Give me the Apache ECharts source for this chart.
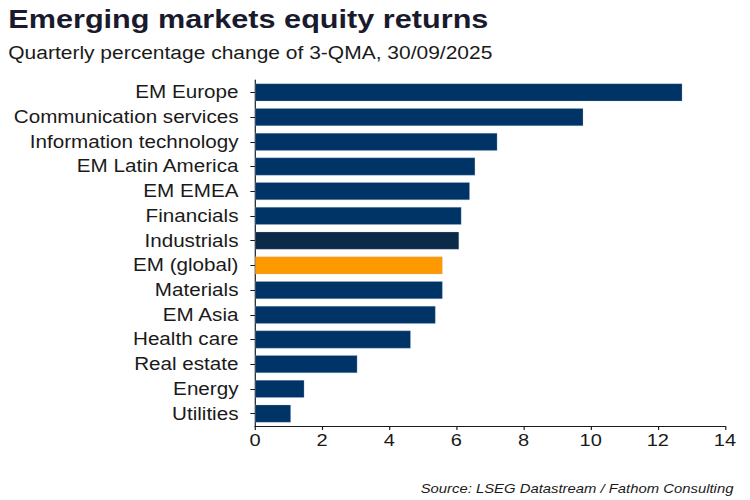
<!DOCTYPE html>
<html><head><meta charset="utf-8">
<script src="https://cdn.jsdelivr.net/npm/echarts@6/dist/echarts.min.js"></script>
<style>
html,body{margin:0;padding:0;background:#fff;overflow:hidden;width:750px;height:500px}
#c{width:636px;height:500px;transform:scaleX(1.1792);transform-origin:0 0}
</style>
</head><body><div id="c"></div>
<script>
const categories = ["EM Europe","Communication services","Information technology","EM Latin America","EM EMEA","Financials","Industrials","EM (global)","Materials","EM Asia","Health care","Real estate","Energy","Utilities"];
const values = [12.73,9.78,7.22,6.56,6.40,6.15,6.08,5.59,5.59,5.38,4.64,3.05,1.47,1.07];
const barColors = ["#003366","#003366","#003366","#003366","#003366","#003366","#0b2a48","#ff9900","#003366","#003366","#003366","#003366","#003366","#003366"];
const xTicks = [0,2,4,6,8,10,12,14];

const chart = echarts.init(document.getElementById('c'), null, {renderer:'svg'});
const font = '"Liberation Sans", Arial, sans-serif';
chart.setOption({
  animation:false,
  title:[
    {text:'Emerging markets equity returns', left:7, top:6, padding:0, textStyle:{fontFamily:font, fontSize:26, fontWeight:'bold', color:'#1a1a2e'}},
    {text:'Quarterly percentage change of 3-QMA, 30/09/2025', left:7, top:44, padding:0, textStyle:{fontFamily:font, fontSize:17.8, fontWeight:'normal', color:'#1a1a1a'}},
    {text:'Source: LSEG Datastream / Fathom Consulting', right:14, top:482, padding:0, textStyle:{fontFamily:font, fontSize:12.6, fontStyle:'italic', fontWeight:'normal', color:'#1a1a1a'}}
  ],
  grid:{left:216.25, right:21.2, top:80, bottom:74},
  xAxis:{type:'value', min:xTicks[0], max:xTicks[xTicks.length-1], interval:2,
    axisLine:{show:true, lineStyle:{color:'#1a1a1a', width:1}},
    axisTick:{show:true, length:4, lineStyle:{color:'#1a1a1a'}},
    axisLabel:{fontFamily:font, fontSize:17, color:'#1a1a1a', margin:6},
    splitLine:{show:false}},
  yAxis:{type:'category', data:categories, inverse:true,
    axisLine:{show:true, lineStyle:{color:'#1a1a1a', width:1}},
    axisTick:{show:true, length:4, alignWithLabel:true, lineStyle:{color:'#1a1a1a'}},
    axisLabel:{fontFamily:font, fontSize:17.5, color:'#1a1a1a', margin:14}},
  series:[{type:'bar', barCategoryGap:'28%',
    data: values.map((v,i)=>({value:v, itemStyle:{color:barColors[i]}})),
    itemStyle:{borderColor:'rgba(170,195,225,0.5)', borderWidth:0.5}}]
});
</script></body></html>
